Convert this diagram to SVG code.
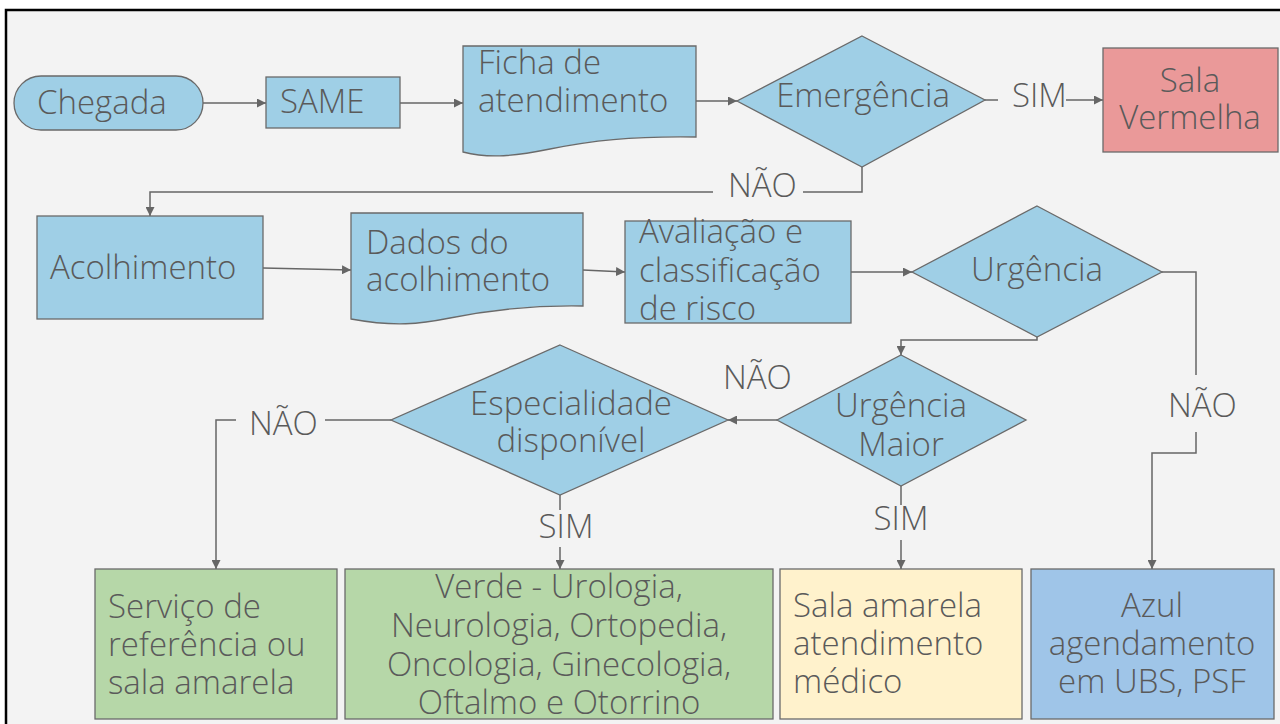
<svg xmlns="http://www.w3.org/2000/svg" width="1280" height="724" viewBox="0 0 1280 724">
<defs>
<marker id="ah" viewBox="0 0 10 10" refX="10" refY="5" markerWidth="9" markerHeight="9" markerUnits="userSpaceOnUse" orient="auto">
<path d="M0,0 L10,5 L0,10 z" fill="#666666"/>
</marker>
<style>
.t{font-family:"Open Sans","Liberation Sans",sans-serif;font-size:33px;font-weight:300;font-stretch:93%;fill:#5a5a5a}
.m{text-anchor:middle}
.b{fill:#9fcfe6;stroke:#6a6a6a;stroke-width:1.3}
.r{fill:#ea9999;stroke:#6a6a6a;stroke-width:1.3}
.g{fill:#b6d7a8;stroke:#6a6a6a;stroke-width:1.3}
.y{fill:#fff2cc;stroke:#6a6a6a;stroke-width:1.3}
.a{fill:#9fc5e8;stroke:#6a6a6a;stroke-width:1.3}
.c{fill:none;stroke:#666666;stroke-width:1.5}
.ca{fill:none;stroke:#666666;stroke-width:1.5;marker-end:url(#ah)}
</style>
</defs>
<rect x="0" y="0" width="1280" height="724" fill="#ffffff"/>
<rect x="6" y="10" width="1290" height="730" fill="#f3f3f3" stroke="#000000" stroke-width="2.5"/>

<g id="connectors">
<path class="ca" d="M203,103 H266"/>
<path class="ca" d="M400,103 H463"/>
<path class="ca" d="M696,101 H737"/>
<path class="c" d="M985,100 H998"/>
<path class="ca" d="M1066,100 H1103"/>
<path class="c" d="M862,167 V192 H803"/>
<path class="ca" d="M713,192 H150 V216"/>
<path class="ca" d="M263,268 L351,270"/>
<path class="ca" d="M583,270 L625,272"/>
<path class="ca" d="M851,272 H912"/>
<path class="ca" d="M1037,337 V340 H901 V355"/>
<path class="c" d="M1162,272 H1196 V375"/>
<path class="ca" d="M1196,432 V453 H1152 V569"/>
<path class="ca" d="M777,420 H728"/>
<path class="c" d="M391,420 H325"/>
<path class="ca" d="M236,420 H216 V569"/>
<path class="c" d="M560,495 V510"/>
<path class="ca" d="M560,547 V569"/>
<path class="c" d="M901,486 V505"/>
<path class="ca" d="M901,540 V569"/>
<text class="t" x="1012" y="107">SIM</text>
<text class="t" x="728" y="197">NÃO</text>
<text class="t" x="1168" y="417">NÃO</text>
<text class="t" x="723" y="389">NÃO</text>
<text class="t" x="249" y="435">NÃO</text>
<text class="t m" x="566" y="538">SIM</text>
<text class="t m" x="901" y="530">SIM</text>
</g>

<g id="chegada">
<rect class="b" x="14" y="76" width="189" height="54" rx="27" ry="27"/>
<text class="t" x="37" y="114">Chegada</text>
</g>
<g id="same">
<rect class="b" x="266" y="77" width="134" height="51"/>
<text class="t" x="280" y="113">SAME</text>
</g>
<g id="ficha">
<path class="b" d="M463,46 H696 V137 C630,136 590,141 550,149 C515,156 490,159 463,152 Z"/>
<text class="t" x="478" y="74">Ficha de</text>
<text class="t" x="478" y="112">atendimento</text>
</g>
<g id="emergencia">
<polygon class="b" points="862,36 985,100 862,167 737,101"/>
<text class="t m" x="863" y="107">Emergência</text>
</g>
<g id="sala-vermelha">
<rect class="r" x="1103" y="48" width="175" height="104"/>
<text class="t m" x="1190" y="92">Sala</text>
<text class="t m" x="1190" y="129">Vermelha</text>
</g>
<g id="acolhimento">
<rect class="b" x="37" y="216" width="226" height="103"/>
<text class="t" x="50" y="279">Acolhimento</text>
</g>
<g id="dados">
<path class="b" d="M351,213 H583 V306 C530,305 490,310 450,318 C420,324 395,327 351,319 Z"/>
<text class="t" x="366" y="254">Dados do</text>
<text class="t" x="366" y="291">acolhimento</text>
</g>
<g id="avaliacao">
<rect class="b" x="625" y="221" width="226" height="102"/>
<text class="t" x="639" y="243">Avaliação e</text>
<text class="t" x="639" y="282">classificação</text>
<text class="t" x="639" y="320">de risco</text>
</g>
<g id="urgencia">
<polygon class="b" points="1037,206 1162,272 1037,337 912,272"/>
<text class="t m" x="1037" y="281">Urgência</text>
</g>
<g id="urgencia-maior">
<polygon class="b" points="901,355 1026,420 901,486 777,420"/>
<text class="t m" x="901" y="417">Urgência</text>
<text class="t m" x="901" y="456">Maior</text>
</g>
<g id="especialidade">
<polygon class="b" points="560,345 728,420 560,495 391,420"/>
<text class="t m" x="571" y="415">Especialidade</text>
<text class="t m" x="571" y="452">disponível</text>
</g>
<g id="servico">
<rect class="g" x="95" y="569" width="242" height="150"/>
<text class="t" x="108" y="618">Serviço de</text>
<text class="t" x="108" y="656">referência ou</text>
<text class="t" x="108" y="694">sala amarela</text>
</g>
<g id="verde">
<rect class="g" x="345" y="569" width="428" height="150"/>
<text class="t m" x="559" y="598">Verde - Urologia,</text>
<text class="t m" x="559" y="637">Neurologia, Ortopedia,</text>
<text class="t m" x="559" y="676">Oncologia, Ginecologia,</text>
<text class="t m" x="559" y="714">Oftalmo e Otorrino</text>
</g>
<g id="sala-amarela">
<rect class="y" x="780" y="569" width="242" height="150"/>
<text class="t" x="793" y="617">Sala amarela</text>
<text class="t" x="793" y="655">atendimento</text>
<text class="t" x="793" y="693">médico</text>
</g>
<g id="azul">
<rect class="a" x="1031" y="569" width="243" height="150"/>
<text class="t m" x="1152" y="617">Azul</text>
<text class="t m" x="1152" y="655">agendamento</text>
<text class="t m" x="1152" y="693">em UBS, PSF</text>
</g>
</svg>
